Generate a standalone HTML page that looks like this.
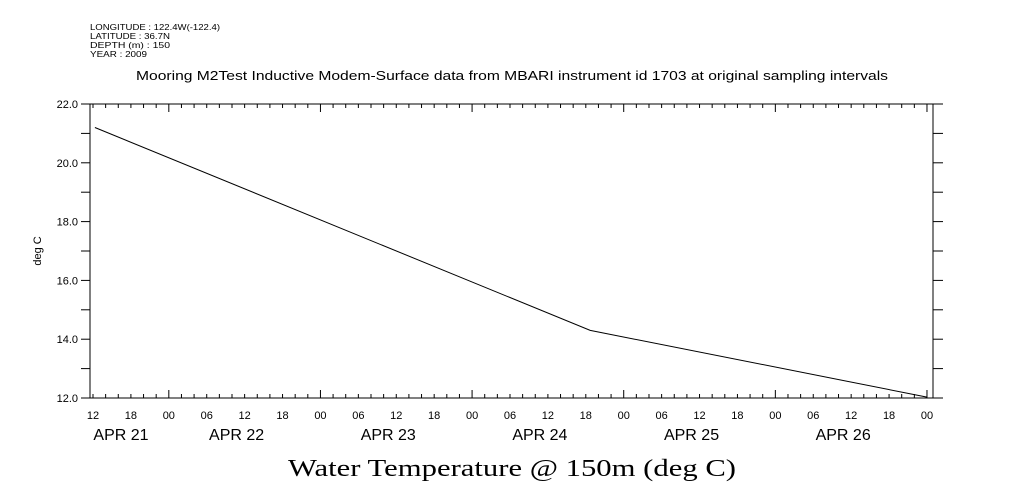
<!DOCTYPE html>
<html><head><meta charset="utf-8">
<style>
html,body{margin:0;padding:0;background:#fff;}
svg{display:block;}
</style></head>
<body>
<svg id="chart" width="1009" height="504" viewBox="0 0 1009 504" xmlns="http://www.w3.org/2000/svg" font-family="Liberation Sans, sans-serif">
<g font-size="8" fill="#000">
<text x="90" y="30" textLength="130" lengthAdjust="spacingAndGlyphs">LONGITUDE : 122.4W(-122.4)</text>
<text x="90" y="39" textLength="80" lengthAdjust="spacingAndGlyphs">LATITUDE : 36.7N</text>
<text x="90" y="48" textLength="80" lengthAdjust="spacingAndGlyphs">DEPTH (m) : 150</text>
<text x="90" y="57" textLength="57" lengthAdjust="spacingAndGlyphs">YEAR : 2009</text>
</g>
<text x="136" y="80" font-size="12.5" textLength="752" lengthAdjust="spacingAndGlyphs">Mooring M2Test Inductive Modem-Surface data from MBARI instrument id 1703 at original sampling intervals</text>
<text transform="translate(41,251) rotate(-90)" font-size="11" text-anchor="middle">deg C</text>
<text x="288" y="476" font-family="Liberation Serif, serif" font-size="24" textLength="448" lengthAdjust="spacingAndGlyphs">Water Temperature @ 150m (deg C)</text>
<rect x="90" y="104" width="843" height="294" fill="none" stroke="#000" stroke-width="1"/>
<g id="axes"></g>
<g id="series"></g>
</svg>
<script>
// data: hours since APR 21 12:00
const pointHours = [0.3, 78.7, 132];
const pointTemps = [21.2, 14.3, 12.03];
const yTicks = [12, 14, 16, 18, 20, 22];
const yTickLabels = ["12.0","14.0","16.0","18.0","20.0","22.0"];
const dayLabels = ["APR 21","APR 22","APR 23","APR 24","APR 25","APR 26"];
const hourLabels = ["12","18","00","06"];

const X0 = 93, PXH = 6.318, L = 90, R = 933, T = 104, B = 398;
const xs = h => X0 + h * PXH;
const ys = v => B - (v - 12) / 10 * (B - T);
const NS = "http://www.w3.org/2000/svg";
const axes = document.getElementById('axes');
function mk(tag, attrs, parent) {
  const e = document.createElementNS(NS, tag);
  for (const k in attrs) e.setAttribute(k, attrs[k]);
  parent.appendChild(e);
  return e;
}
for (let h = -2; h <= 136; h += 2) {
  const x = xs(h);
  if (x < L - 0.5 || x > R + 0.5) continue;
  const major = ((h + 12) % 24) === 0;
  const len = major ? 8 : 4;
  const t1 = mk('line', {x1: x, x2: x, y1: B, y2: B - len, stroke: '#000'}, axes);
  
  
  const t2 = mk('line', {x1: x, x2: x, y1: T, y2: T + len, stroke: '#000'}, axes);
  
  
  if (h % 6 === 0 && h >= 0 && h <= 132) {
    const lb = mk('text', {x: x, y: B + 21, 'font-size': 11, 'text-anchor': 'middle'}, axes);
    lb.textContent = hourLabels[(h / 6) % 4];
    
    
  }
}
dayLabels.forEach((d, i) => {
  const cx = i === 0 ? 121 : xs(i * 24) - 8;
  const t = mk('text', {x: cx, y: B + 42, 'font-size': 16, 'text-anchor': 'middle'}, axes);
  t.textContent = d;
  
  
});
for (let v = 12; v <= 22; v += 1) {
  const y = ys(v);
  const a = mk('line', {x1: L - 9, x2: L, y1: y, y2: y, stroke: '#000'}, axes);
  
  
  const b = mk('line', {x1: R, x2: R + 10, y1: y, y2: y, stroke: '#000'}, axes);
  
  
}
yTicks.forEach((v, i) => {
  const t = mk('text', {x: L - 12, y: ys(v) + 4, 'font-size': 11, 'text-anchor': 'end'}, axes);
  t.textContent = yTickLabels[i];
  
  
});
const pts = pointHours.map((h, i) => xs(h).toFixed(1) + ',' + ys(pointTemps[i]).toFixed(1)).join(' ');
const line = mk('polyline', {points: pts, fill: 'none', stroke: '#000', 'stroke-width': 1}, document.getElementById('series'));


</script>
</body></html>
